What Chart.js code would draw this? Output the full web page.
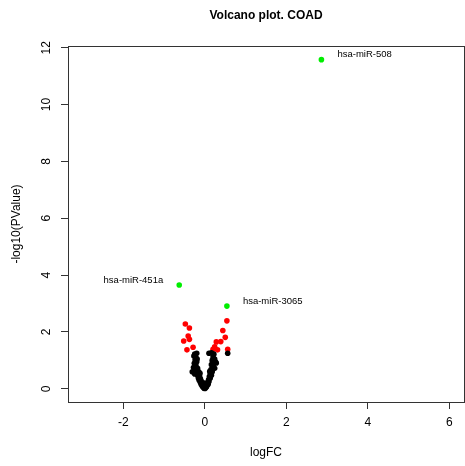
<!DOCTYPE html>
<html>
<head>
<meta charset="utf-8">
<script src="https://cdn.jsdelivr.net/npm/chart.js@4.4.0/dist/chart.umd.min.js"></script>
<style>
html, body { margin: 0; padding: 0; overflow: hidden; background: #fff; }
#wrap { width: 468px; height: 466px; }
</style>
</head>
<body>
<div id="wrap"><canvas id="volcano"></canvas></div>
<script>
// Data
const xTicks = [-2, 0, 2, 4, 6];
const yTicks = [0, 2, 4, 6, 8, 10, 12];

// not significant (black)
const nsX = [-0.25, -0.20, -0.27, -0.22, -0.24, -0.20, -0.26, -0.22, -0.28, -0.18, -0.24, -0.31, -0.20, -0.15, -0.25, -0.18, -0.13, -0.16, -0.11, -0.14, -0.09, -0.11, -0.07, -0.09, -0.05, -0.06, -0.03, -0.02,
             0.10, 0.16, 0.22, 0.56, 0.20, 0.24, 0.18, 0.28, 0.26, 0.22, 0.16, 0.20, 0.24, 0.15, 0.18, 0.13, 0.16, 0.11, 0.13, 0.09, 0.10, 0.07, 0.08, 0.05, 0.04, 0.02, 0.00,
             -0.04, 0.02, 0.00, -0.01, 0.03, -0.12, 0.12, -0.19, 0.19];
const nsY = [1.22, 1.25, 1.15, 1.10, 1.02, 0.95, 0.90, 0.82, 0.75, 0.72, 0.65, 0.60, 0.58, 0.60, 0.52, 0.48, 0.45, 0.38, 0.35, 0.30, 0.27, 0.22, 0.19, 0.15, 0.12, 0.08, 0.05, 0.02,
             1.25, 1.27, 1.22, 1.25, 1.12, 1.05, 1.00, 0.91, 0.95, 0.88, 0.85, 0.78, 0.72, 0.68, 0.60, 0.55, 0.48, 0.43, 0.37, 0.32, 0.26, 0.22, 0.16, 0.12, 0.07, 0.04, 0.01,
             0.15, 0.10, 0.06, 0.20, 0.18, 0.55, 0.62, 1.05, 0.98];

// significant (red)
const sigX = [-0.48, -0.38, -0.41, -0.52, -0.38, -0.29, -0.44,
              0.54, 0.44, 0.50, 0.39, 0.28, 0.24, 0.20, 0.31, 0.56];
const sigY = [2.28, 2.14, 1.86, 1.68, 1.74, 1.46, 1.37,
              2.39, 2.05, 1.81, 1.66, 1.65, 1.48, 1.39, 1.37, 1.39];

// labelled hits (green)
const hitX = [2.86, -0.63, 0.54];
const hitY = [11.58, 3.65, 2.91];
const hitNames = ['hsa-miR-508', 'hsa-miR-451a', 'hsa-miR-3065'];

function toPoints(xs, ys) {
    return xs.map((x, i) => ({ x: x, y: ys[i] }));
}

const FONT = '"Liberation Sans", Arial, Helvetica, sans-serif';

// draws the R-style box, tick labels, titles and point labels
const rStyle = {
    id: 'rStyle',
    afterDraw(chart) {
        const ctx = chart.ctx;
        const area = chart.chartArea;
        const xs = chart.scales.x;
        const ys = chart.scales.y;
        ctx.save();
        ctx.strokeStyle = '#333';
        ctx.lineWidth = 1;
        ctx.strokeRect(Math.round(area.left) + 0.5, Math.round(area.top) + 0.5,
            Math.round(area.right - area.left), Math.round(area.bottom - area.top));

        ctx.fillStyle = '#000';
        ctx.font = '12px ' + FONT;
        ctx.textAlign = 'center';
        ctx.textBaseline = 'middle';
        xTicks.forEach(t => ctx.fillText(String(t), xs.getPixelForValue(t), area.bottom + 21));
        yTicks.forEach(t => {
            ctx.save();
            ctx.translate(area.left - 21, ys.getPixelForValue(t));
            ctx.rotate(-Math.PI / 2);
            ctx.fillText(String(t), 0, 0);
            ctx.restore();
        });

        const cx = (area.left + area.right) / 2;
        const cy = (area.top + area.bottom) / 2;
        ctx.fillText('logFC', cx, area.bottom + 51);
        ctx.save();
        ctx.translate(area.left - 51, cy);
        ctx.rotate(-Math.PI / 2);
        ctx.fillText('-log10(PValue)', 0, 0);
        ctx.restore();

        ctx.font = 'bold 12px ' + FONT;
        ctx.fillText('Volcano plot. COAD', cx, 16);

        ctx.font = '9.5px ' + FONT;
        hitNames.forEach((name, i) => {
            const px = xs.getPixelForValue(hitX[i]);
            const py = ys.getPixelForValue(hitY[i]) - 5;
            if (hitX[i] < 0) {
                ctx.textAlign = 'right';
                ctx.fillText(name, px - 16, py);
            } else {
                ctx.textAlign = 'left';
                ctx.fillText(name, px + 16, py);
            }
        });
        ctx.restore();
    }
};

const axisGrid = {
    display: true,
    drawOnChartArea: false,
    drawTicks: true,
    tickLength: 7,
    color: '#333'
};

new Chart(document.querySelector('#volcano').getContext('2d'), {
    type: 'scatter',
    data: {
        datasets: [
            { label: 'ns', data: toPoints(nsX, nsY), backgroundColor: '#000', borderWidth: 0, pointRadius: 2.8 },
            { label: 'sig', data: toPoints(sigX, sigY), backgroundColor: '#ff0000', borderWidth: 0, pointRadius: 2.8 },
            { label: 'hits', data: toPoints(hitX, hitY), backgroundColor: '#00ee00', borderWidth: 0, pointRadius: 2.8 }
        ]
    },
    options: {
        responsive: true,
        maintainAspectRatio: false,
        animation: false,
        layout: { padding: { left: 61, top: 46, right: 1.5, bottom: 57 } },
        plugins: { legend: { display: false }, tooltip: { enabled: false } },
        scales: {
            x: {
                type: 'linear',
                min: -3.36,
                max: 6.36,
                afterBuildTicks: s => { s.ticks = xTicks.map(v => ({ value: v })); },
                ticks: { display: false },
                grid: axisGrid,
                border: { display: true, color: '#333' }
            },
            y: {
                type: 'linear',
                min: -0.464,
                max: 12.06,
                afterBuildTicks: s => { s.ticks = yTicks.map(v => ({ value: v })); },
                ticks: { display: false },
                grid: axisGrid,
                border: { display: true, color: '#333' }
            }
        }
    },
    plugins: [rStyle]
});
</script>
</body>
</html>
